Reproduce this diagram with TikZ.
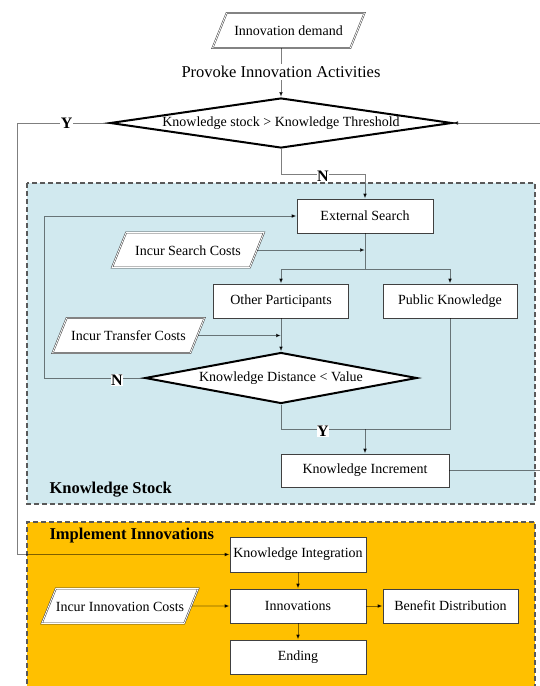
\documentclass[tikz,border=0pt]{standalone}
\usepackage{fontspec}
\setmainfont{Liberation Serif}
\usetikzlibrary{shapes.geometric, arrows.meta, positioning, calc}

\definecolor{stockblue}{HTML}{D1E9EF}
\definecolor{implorange}{HTML}{FFC000}

\tikzset{
  txt/.style={font=\fontsize{14}{16}\selectfont},
  proc/.style={txt, draw=black!75, line width=0.8pt, fill=white,
    minimum width=136pt, minimum height=34pt, inner sep=1pt},
  io/.style={txt, trapezium, trapezium left angle=68, trapezium right angle=112,
    trapezium stretches body=true, draw=black!75, double=white, double distance=0.8pt,
    line width=0.5pt, fill=white, minimum width=152pt, text height=10pt, text depth=0pt,
    inner xsep=0pt, inner ysep=12.5pt},
  decide/.style={txt, diamond, draw=black, line width=2pt, fill=white, inner sep=0pt},
  conn/.style={draw=black, draw opacity=0.5, line width=0.7pt},
  flow/.style={conn, -{Latex[length=5pt,width=4pt]}},
  yn/.style={fill=white, inner sep=0.5pt, font=\fontsize{16}{18}\selectfont\bfseries},
  zone/.style={draw=black!65, line width=1.2pt, dash pattern=on 5pt off 3pt},
  zonelab/.style={anchor=west, font=\fontsize{16.5}{18}\selectfont\bfseries}
}

\begin{document}
\begin{tikzpicture}[x=1pt, y=-1pt]
\useasboundingbox (0,0) rectangle (540,686);
\clip (0,0) rectangle (540,686);

% zones
\fill[stockblue] (27,183) rectangle (535,504);
\draw[zone] (27,183) rectangle (535,504);
\fill[implorange] (27,522) rectangle (535,700);
\draw[zone] (27,700) -- (27,522) -- (535,522) -- (535,700);
\node[zonelab] (stocklab) at (46,490) {Knowledge Stock};
\node[zonelab] (impllab) at (46,536) {Implement Innovations};

% top
\node[io] (demand) at (288.5,30.5) {Innovation demand};
\node[font=\fontsize{16.5}{18}\selectfont, inner sep=2pt] (provoke) at (281,72) {Provoke Innovation Activities};
\node[decide, minimum width=342pt, minimum height=50pt, aspect=6.84] (dia1) at (281,123) {Knowledge stock > Knowledge Threshold};

% knowledge stock
\node[proc] (search) at (365,216) {External Search};
\node[io] (scost) at (188,250) {Incur Search Costs};
\node[proc, minimum width=135pt] (other) at (281,301) {Other Participants};
\node[proc, minimum width=134pt] (public) at (450,301) {Public Knowledge};
\node[io] (tcost) at (128.5,335.5) {Incur Transfer Costs};
\node[decide, minimum width=272pt, minimum height=51pt, aspect=5.33] (dia2) at (281,378) {Knowledge Distance < Value};
\node[proc, minimum width=168pt, minimum height=33pt] (inc) at (365,470.5) {Knowledge Increment};

% implement innovations
\node[proc, minimum height=35pt] (integ) at (298,554.5) {Knowledge Integration};
\node[io] (icost) at (120,606) {Incur Innovation Costs};
\node[proc] (innov) at (298,606) {Innovations};
\node[proc, minimum width=135pt] (benefit) at (450.5,606) {Benefit Distribution};
\node[proc] (ending) at (298,657) {Ending};

% bends
\coordinate (ybend) at (17,553);
\coordinate (rbend) at (548,300);
\coordinate (nj) at (365,174);
\coordinate (bj) at (365,269);
\coordinate (nb) at (44,300);
\coordinate (yj) at (365,429);

% connectors
\draw[conn] (dia1.north |- demand.south) -- (provoke);
\draw[flow] (provoke) -- (dia1.north);
\draw[flow] (dia1.west) -- node[yn, pos=0.46]{Y} (dia1.west -| ybend) |- (integ.west);
\draw[flow] (inc.east) -- (inc.east -| rbend) |- (dia1.east);
\draw[flow] (dia1.south) |- node[yn, pos=0.75, yshift=-2pt]{N} (nj) -- (search.north);
\draw[conn] (search.south) -- (bj);
\draw[flow] (bj) -| (other.north);
\draw[flow] (bj) -| (public.north);
\draw[flow] (scost.east) -- (scost.east -| bj);
\draw[flow] (tcost.east) -- (tcost.east -| other.south);
\draw[flow] (other.south) -- (dia2.north);
\draw[flow] (dia2.west) -- node[yn, pos=0.27, yshift=-2pt]{N} (dia2.west -| nb) |- (search.west);
\draw[conn] (dia2.south) |- node[yn, pos=0.75, yshift=-2pt]{Y} (yj);
\draw[conn] (public.south) |- (yj);
\draw[flow] (yj) -- (inc.north);
\draw[flow] (integ) -- (innov);
\draw[flow] (innov) -- (ending);
\draw[flow] (innov) -- (benefit);
\draw[flow] (icost) -- (innov);
\end{tikzpicture}
\end{document}
